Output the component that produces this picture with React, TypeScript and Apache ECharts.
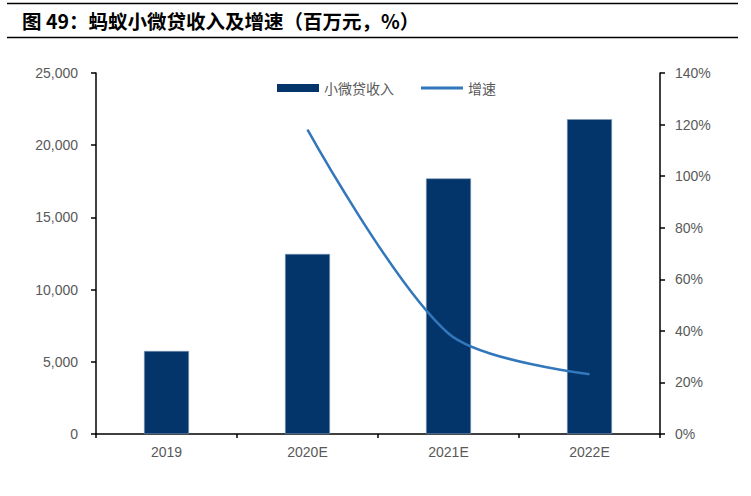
import { useEffect, useRef } from "react";
import * as echarts from "echarts";

const categories = ["2019", "2020E", "2021E", "2022E"];
const revenue = [5750, 12470, 17700, 21800];
const growth = [null, 118, 39, 23.2];

const CJK = '"Noto Sans CJK SC", sans-serif';
const LATIN = 'Arial, "Liberation Sans", sans-serif';

export default function App() {
  const chartRef = useRef<HTMLDivElement>(null);

  useEffect(() => {
    if (!chartRef.current) return;
    const chart = echarts.init(chartRef.current, null, { renderer: "svg" });

    const option: echarts.EChartsOption = {
      animation: false,
      backgroundColor: "#ffffff",
      graphic: [
        { type: "line", shape: { x1: 7, y1: 3.5, x2: 738, y2: 3.5 }, style: { stroke: "#000", lineWidth: 1.5 } },
        { type: "line", shape: { x1: 7, y1: 37.5, x2: 738, y2: 37.5 }, style: { stroke: "#000", lineWidth: 1.5 } },
        {
          type: "text",
          x: 22,
          y: 20,
          style: {
            text: "图 49：蚂蚁小微贷收入及增速（百万元，%）",
            font: `bold 19.5px ${CJK}`,
            fill: "#000",
            verticalAlign: "middle"
          }
        }
      ],
      legend: {
        left: 272,
        top: 76,
        itemWidth: 42,
        itemHeight: 8,
        itemGap: 27,
        textStyle: { color: "#595959", fontSize: 14, fontFamily: CJK },
        data: [
          { name: "小微贷收入", icon: "rect", itemStyle: { borderWidth: 0 } },
          { name: "增速", icon: "path://M0,0 L42,0 L42,3 L0,3 Z" }
        ]
      },
      grid: { left: 96, right: 91, top: 73, bottom: 62 },
      xAxis: {
        type: "category",
        data: categories,
        axisLine: { lineStyle: { color: "#000", width: 1.5 } },
        axisTick: { show: true, length: 4, lineStyle: { color: "#000", width: 1.5 } },
        axisLabel: { color: "#595959", fontSize: 14, fontFamily: LATIN, margin: 11 }
      },
      yAxis: [
        {
          type: "value",
          min: 0,
          max: 25000,
          interval: 5000,
          splitLine: { show: false },
          axisLine: { show: true, lineStyle: { color: "#000", width: 1.5 } },
          axisTick: { show: true, length: 5, lineStyle: { color: "#000", width: 1.5 } },
          axisLabel: {
            color: "#595959",
            fontSize: 14,
            fontFamily: LATIN,
            margin: 18,
            formatter: (v: number) => v.toLocaleString("en-US")
          }
        },
        {
          type: "value",
          min: 0,
          max: 140,
          interval: 20,
          splitLine: { show: false },
          axisLine: { show: true, lineStyle: { color: "#000", width: 1.5 } },
          axisTick: { show: true, length: 5, lineStyle: { color: "#000", width: 1.5 } },
          axisLabel: { color: "#595959", fontSize: 14, fontFamily: LATIN, margin: 15, formatter: "{value}%" }
        }
      ],
      series: [
        {
          name: "小微贷收入",
          type: "bar",
          data: revenue,
          barWidth: 45,
          itemStyle: { color: "#03356a", borderColor: "#7f9abb", borderWidth: 0.6 }
        },
        {
          name: "增速",
          type: "line",
          yAxisIndex: 1,
          data: growth,
          smooth: 0.3,
          showSymbol: false,
          symbol: "none",
          lineStyle: { color: "#3276bb", width: 2.5 },
          itemStyle: { color: "#3276bb" }
        }
      ]
    };

    chart.setOption(option);
    return () => chart.dispose();
  }, []);

  return (
    <div
      ref={chartRef}
      style={{ position: "fixed", left: 0, top: 0, width: 751, height: 496 }}
    />
  );
}
